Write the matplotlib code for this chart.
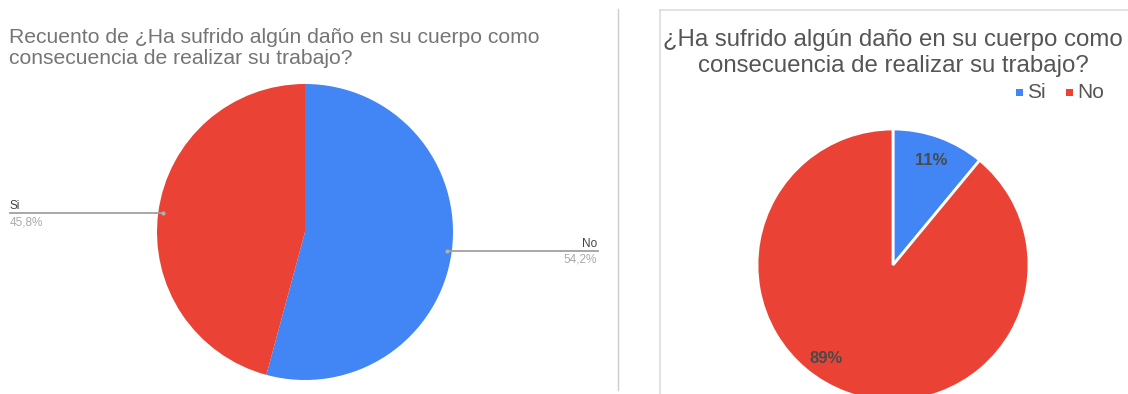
import numpy as np
import matplotlib.pyplot as plt
from matplotlib.lines import Line2D
from matplotlib.patches import Rectangle

plt.rcParams['font.family'] = ['Liberation Sans', 'DejaVu Sans']

# left chart: counts shown as percent of answers
left_labels = ['No', 'Si']
left_values = [54.2, 45.8]
left_text = ['54,2%', '45,8%']

# right chart
right_labels = ['Si', 'No']
right_values = [11, 89]

BLUE = '#4285f4'
RED = '#ea4335'

W, H = 1128, 394
fig = plt.figure(figsize=(W / 100, H / 100), dpi=100)
fig.patch.set_facecolor('white')


def px_axes(cx, cy, r):
    # square axes of radius r pixels centred at (cx, cy), y measured from the top
    return fig.add_axes([(cx - r) / W, (H - cy - r) / H, 2 * r / W, 2 * r / H])


def fig_line(x0, y0, x1, y1, **kw):
    fig.add_artist(Line2D([x0 / W, x1 / W], [1 - y0 / H, 1 - y1 / H],
                          transform=fig.transFigure, **kw))


# ---- left pie ----
lcx, lcy, lr = 305, 232, 148
ax1 = px_axes(lcx, lcy, lr)
wedges, _ = ax1.pie(left_values, colors=[BLUE, RED], startangle=90,
                    counterclock=False, radius=1,
                    wedgeprops=dict(linewidth=0))
ax1.set_xlim(-1, 1)
ax1.set_ylim(-1, 1)
ax1.axis('off')

fig.text(9 / W, 1 - 48 / H,
         'Recuento de ¿Ha sufrido algún daño en su cuerpo como\n'
         'consecuencia de realizar su trabajo?',
         fontsize=15.2, color='#757575', va='center', ha='left',
         linespacing=1.15)

# leader lines from the middle of each wedge
for w, lab, txt in zip(wedges, left_labels, left_text):
    mid = np.deg2rad((w.theta1 + w.theta2) / 2)
    ax_ = lcx + 0.97 * lr * np.cos(mid)
    ay_ = lcy - 0.97 * lr * np.sin(mid)
    if np.cos(mid) < 0:
        x_end, ha, tx = 10, 'left', 10
    else:
        x_end, ha, tx = 598, 'right', 597
    fig_line(ax_, ay_, x_end, ay_, color='#a0a0a0', lw=1.3)
    fig.add_artist(Line2D([ax_ / W], [1 - ay_ / H], transform=fig.transFigure,
                          marker='o', ms=3, color='#b0b0b0', mec='none'))
    fig.text(tx / W, 1 - (ay_ - 7) / H, lab, fontsize=8.5, color='#444444',
             ha=ha, va='center')
    fig.text(tx / W, 1 - (ay_ + 9) / H, txt, fontsize=8.5, color='#aaaaaa',
             ha=ha, va='center')

# divider between the two charts
fig_line(618, 9, 618, 390, color='#cccccc', lw=1)

# ---- right chart box ----
fig_line(660, 10, W, 10, color='#dddddd', lw=1.2)
fig_line(660, 10, 660, H, color='#dddddd', lw=1.2)

fig.text(893 / W, 1 - 53 / H,
         '¿Ha sufrido algún daño en su cuerpo como\n'
         'consecuencia de realizar su trabajo?',
         fontsize=17.3, color='#555555', ha='center', va='center',
         linespacing=1.2)

# legend
lx = 1016
for lab, col in zip(right_labels, [BLUE, RED]):
    fig.add_artist(Rectangle((lx / W, 1 - 96 / H), 7 / W, 7 / H,
                             transform=fig.transFigure, color=col, lw=0))
    fig.text((lx + 11) / W, 1 - 93 / H, lab, fontsize=15, color='#555555',
             ha='left', va='center')
    lx += 50

rcx, rcy, rr = 893, 265, 136
ax2 = px_axes(rcx, rcy, rr)
w2, _, pct = ax2.pie(right_values, colors=[BLUE, RED], startangle=90,
                     counterclock=False, radius=1,
                     autopct=lambda p: '%d%%' % round(p), pctdistance=0.82,
                     wedgeprops=dict(linewidth=2, edgecolor='white'),
                     textprops=dict(fontsize=12, fontweight='bold',
                                    color='#4a4a4a'))
pct[1].set_position((-0.49, -0.69))
ax2.set_xlim(-1, 1)
ax2.set_ylim(-1, 1)
ax2.axis('off')

fig.savefig('out.png', dpi=100, facecolor='white')
